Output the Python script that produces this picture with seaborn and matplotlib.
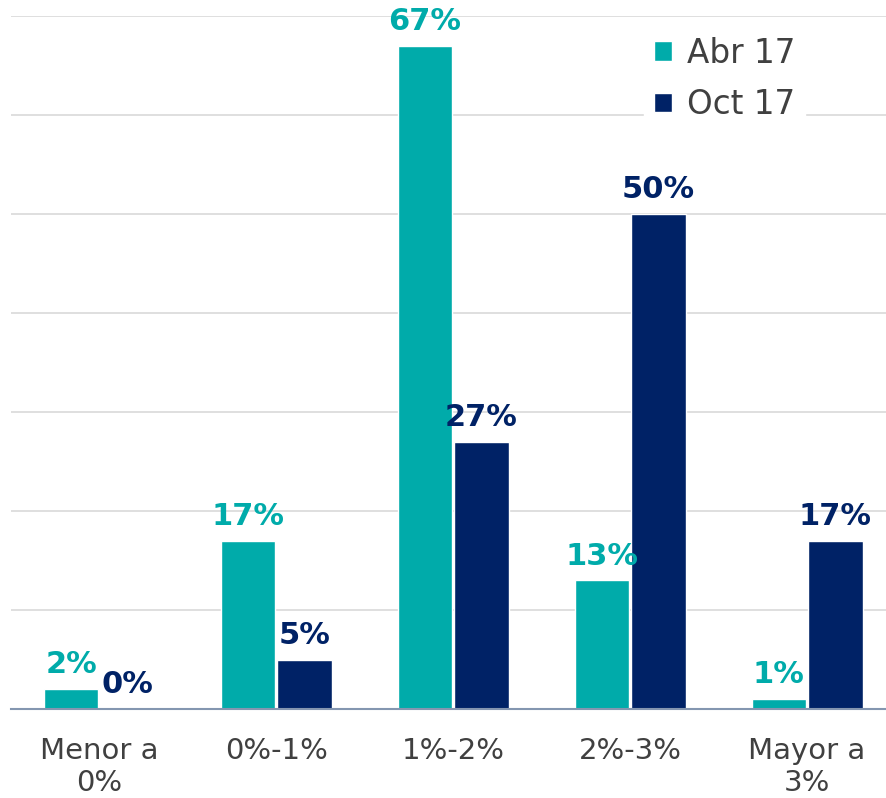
import matplotlib
matplotlib.use("Agg")
import matplotlib.pyplot as plt
import seaborn as sns
import pandas as pd

categories = ["Menor a\n0%", "0%-1%", "1%-2%", "2%-3%", "Mayor a\n3%"]
series = ["Abr 17", "Oct 17"]
abr_17 = [2, 17, 67, 13, 1]
oct_17 = [0, 5, 27, 50, 17]
colors = ["#00ABAA", "#002266"]

df = pd.DataFrame({
    "rango": categories * 2,
    "serie": [series[0]] * len(categories) + [series[1]] * len(categories),
    "valor": abr_17 + oct_17,
})

sns.set_style("white")
plt.rcParams["font.family"] = ["DejaVu Sans"]

fig = plt.figure(figsize=(8.87, 7.98), dpi=100)
ax = fig.add_axes([11 / 887, 1 - 709 / 798, 876 / 887, (709 - 16) / 798])

sns.barplot(data=df, x="rango", y="valor", hue="serie", palette=colors,
            width=0.64, gap=0.04, ax=ax, saturation=1, legend=True)

ax.set_xlim(-0.5, 4.452)
ax.set_ylim(0, 70)
ax.set_yticks(range(0, 71, 10))
ax.yaxis.grid(True, color="#D9D9D9", linewidth=1.2)
ax.set_axisbelow(True)
ax.set_yticklabels([])
ax.tick_params(axis="y", length=0)
ax.tick_params(axis="x", length=0, pad=20, labelsize=21, labelcolor="#404040")
ax.set_xlabel("")
ax.set_ylabel("")
for s in ["top", "right", "left"]:
    ax.spines[s].set_visible(False)
ax.spines["bottom"].set_color("#8496B0")
ax.spines["bottom"].set_linewidth(1.5)

for cont, col in zip(ax.containers, colors):
    ax.bar_label(cont, labels=[f"{int(v)}%" for v in cont.datavalues],
                 padding=7, color=col, fontsize=22, fontweight="bold")

handles, labels = ax.get_legend_handles_labels()
leg = ax.legend(handles, labels, loc="upper right", bbox_to_anchor=(0.925, 1.008),
                frameon=True, fontsize=23.5, handlelength=0.55, handleheight=0.55,
                handletextpad=0.45, labelspacing=0.57, borderpad=0.3,
                labelcolor="#404040")
leg.get_frame().set_edgecolor("white")
leg.get_frame().set_facecolor("white")
leg.get_frame().set_alpha(1)

fig.savefig("out.png", dpi=100)
